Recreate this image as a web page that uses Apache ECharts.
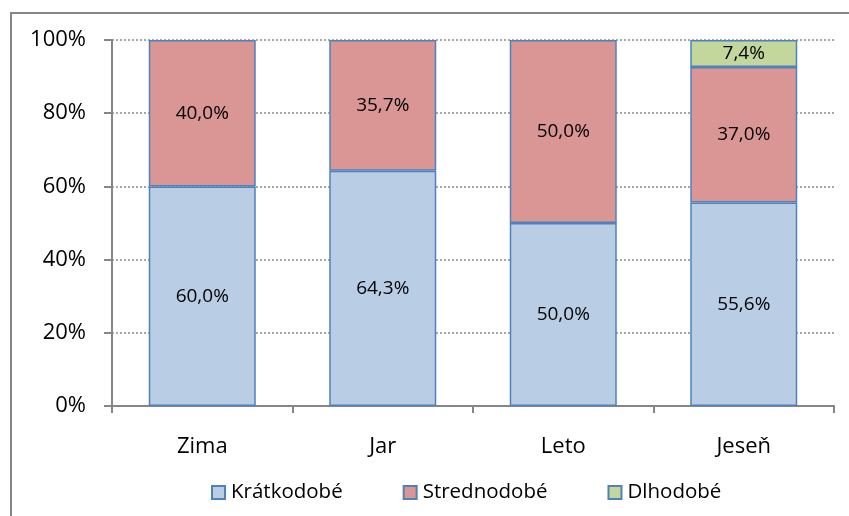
<!DOCTYPE html>
<html>
<head>
<meta charset="utf-8">
<script src="https://cdn.jsdelivr.net/npm/echarts@6/dist/echarts.min.js"></script>
<style>
html,body{margin:0;padding:0;background:#fff;}
#chart{width:849px;height:516px;}
</style>
</head>
<body>
<div id="chart"></div>
<script>
const categories = ['Zima', 'Jar', 'Leto', 'Jeseň'];
const kratkodobe = [60.0, 64.3, 50.0, 55.6];
const strednodobe = [40.0, 35.7, 50.0, 37.0];
const dlhodobe = [null, null, null, 7.4];
const yTicks = [0, 20, 40, 60, 80, 100];

const FONT = '"Open Sans", sans-serif';
const fmt = p => (p.value == null || p.value === 0) ? '' : p.value.toFixed(1).replace('.', ',') + '%';

function mk(name, data, color) {
  return {
    name: name,
    type: 'bar',
    stack: 'total',
    data: data,
    barWidth: 107,
    itemStyle: { color: color, borderColor: '#4f81bd', borderWidth: 1.5 },
    label: { show: true, position: 'inside', formatter: fmt, color: '#000', fontFamily: FONT, fontSize: 19 },
    emphasis: { disabled: true }
  };
}

const chart = echarts.init(document.getElementById('chart'));
chart.setOption({
  animation: false,
  backgroundColor: '#fff',
  graphic: [{
    type: 'rect', shape: { x: 11, y: 13, width: 900, height: 600 },
    style: { fill: 'none', stroke: '#868686', lineWidth: 2 }, silent: true, z: -10
  }],
  grid: { left: 112, right: 15, top: 40, bottom: 110, containLabel: false },
  legend: {
    top: 477, left: 206, itemWidth: 13, itemHeight: 13, itemGap: 60, icon: 'rect',
    textStyle: { fontFamily: FONT, fontSize: 20.5, color: '#000', padding: [0, 0, 0, 1] },
    data: ['Krátkodobé', 'Strednodobé', 'Dlhodobé']
  },
  xAxis: {
    type: 'category', data: categories,
    axisLine: { lineStyle: { color: '#868686', width: 2 } },
    axisTick: { show: true, length: 7, lineStyle: { color: '#868686', width: 2 } },
    axisLabel: { color: '#000', fontFamily: FONT, fontSize: 22, margin: 30 }
  },
  yAxis: {
    type: 'value', min: 0, max: 100, interval: 20,
    axisLine: { show: true, lineStyle: { color: '#868686', width: 2 } },
    axisTick: { show: true, length: 8, lineStyle: { color: '#868686', width: 2 } },
    axisLabel: { color: '#000', fontFamily: FONT, fontSize: 22, margin: 26,
      formatter: v => yTicks.indexOf(v) >= 0 ? v + '%' : '' },
    splitLine: { show: true, lineStyle: { color: '#8c8c8c', type: [2, 2], width: 1.5 } }
  },
  series: [
    mk('Krátkodobé', kratkodobe, '#b9cde5'),
    mk('Strednodobé', strednodobe, '#d99694'),
    mk('Dlhodobé', dlhodobe, '#c3d69b')
  ]
});
</script>
</body>
</html>
